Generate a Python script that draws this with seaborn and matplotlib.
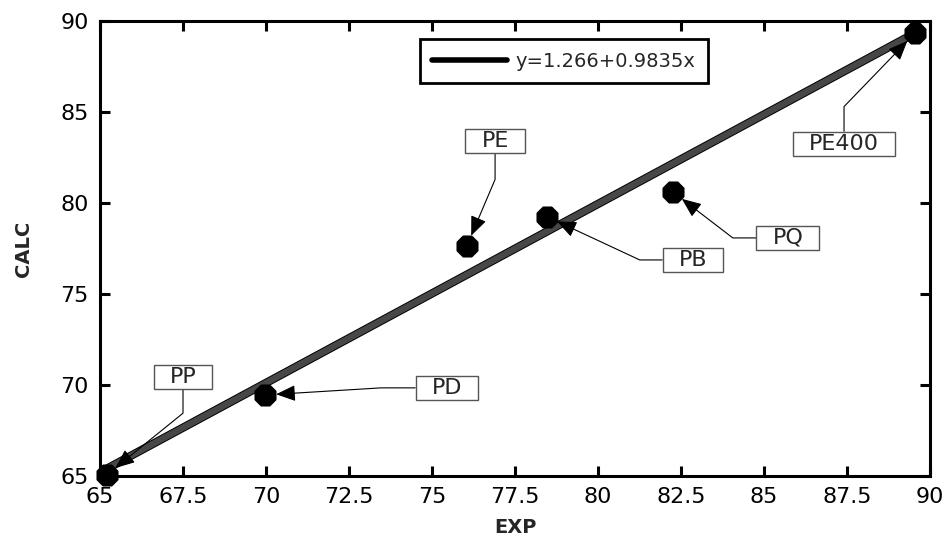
import numpy as np
import pandas as pd
import matplotlib
matplotlib.use('Agg')
import matplotlib.pyplot as plt
import matplotlib.patheffects as pe
from matplotlib.lines import Line2D
from matplotlib.path import Path
from matplotlib.ticker import MultipleLocator, FuncFormatter
import seaborn as sns

# Data
polymers = ['PP', 'PD', 'PE', 'PB', 'PQ', 'PE400']
exp_vals = [65.2, 69.97, 76.05, 78.46, 82.26, 89.55]
calc_vals = [65.05, 69.45, 77.64, 79.25, 80.6, 89.34]

# Label box centres (data coords) and leader angles
label_x = [67.5, 75.45, 76.9, 82.86, 85.72, 87.41]
label_y = [70.44, 69.84, 83.4, 76.87, 78.08, 83.24]
angle_a = [90, 0, 90, 0, 0, 90]
angle_b = [39, 3.5, 67, -25, -37.5, 46]

# Fitted line
fit_intercept = 1.266
fit_slope = 0.9835
fit_x = np.array([65.2, 89.55])
fit_y = fit_intercept + fit_slope * fit_x

df = pd.DataFrame({'EXP': exp_vals, 'CALC': calc_vals, 'name': polymers})
fit_df = pd.DataFrame({'EXP': fit_x, 'CALC': fit_y})

sns.set_style('ticks')
plt.rcParams['font.family'] = ['DejaVu Sans']


def wide_box(x0, y0, width, height, mutation_size):
    """Rectangle with more padding left/right than top/bottom"""
    px = 0.72 * mutation_size
    py = 0.1 * mutation_size
    x0, y0 = x0 - px, y0 - py
    x1, y1 = x0 + width + 2 * px, y0 + height + 2 * py
    return Path([(x0, y0), (x1, y0), (x1, y1), (x0, y1), (x0, y0)], closed=True)


fig = plt.figure(figsize=(9.46, 5.39), dpi=100)
ax = fig.add_axes([0.1057, 0.117, 0.8774, 0.844])

sns.lineplot(data=fit_df, x='EXP', y='CALC', ax=ax, color='#474747', lw=4.6,
             zorder=3, legend=False,
             path_effects=[pe.Stroke(linewidth=6, foreground='black'), pe.Normal()])
sns.scatterplot(data=df, x='EXP', y='CALC', ax=ax, marker='8', s=250,
                color='black', edgecolor='black', zorder=4, clip_on=False, legend=False)

for i, name in enumerate(polymers):
    ax.annotate(name, xy=(exp_vals[i], calc_vals[i]), xytext=(label_x[i], label_y[i]),
                textcoords='data', ha='center', va='center', fontsize=16, zorder=5,
                bbox=dict(boxstyle=wide_box, fc='white', ec='#555555', lw=1),
                arrowprops=dict(arrowstyle='-|>,head_length=0.6,head_width=0.25',
                                connectionstyle=f'angle,angleA={angle_a[i]},angleB={angle_b[i]},rad=0',
                                color='black', lw=0.8, shrinkA=0, shrinkB=8,
                                mutation_scale=20))

handle = Line2D([], [], color='black', lw=4)
leg = ax.legend([handle], [f'y={fit_intercept}+{fit_slope}x'], loc='upper center',
                bbox_to_anchor=(0.559, 0.96), frameon=True, fancybox=False,
                edgecolor='black', framealpha=1, fontsize=14, handlelength=3.85,
                handletextpad=0.45, borderpad=0.65, borderaxespad=0)
leg.get_frame().set_linewidth(2)

ax.set_xlim(65, 90)
ax.set_ylim(65, 90)
ax.xaxis.set_major_locator(MultipleLocator(2.5))
ax.yaxis.set_major_locator(MultipleLocator(5))
ax.xaxis.set_major_formatter(FuncFormatter(lambda v, p: f'{v:g}'))
ax.yaxis.set_major_formatter(FuncFormatter(lambda v, p: f'{v:g}'))

for sp in ax.spines.values():
    sp.set_visible(True)
    sp.set_linewidth(2.2)
    sp.set_color('black')
ax.tick_params(direction='in', length=7, width=2.2, labelsize=16, pad=8,
               top=True, right=True, colors='black')

ax.set_xlabel('EXP', fontsize=14, fontweight='bold')
ax.set_ylabel('CALC', fontsize=14, fontweight='bold')
ax.xaxis.set_label_coords(0.5, -0.092)
ax.yaxis.set_label_coords(-0.081, 0.5)

plt.savefig('out.png', dpi=100)
